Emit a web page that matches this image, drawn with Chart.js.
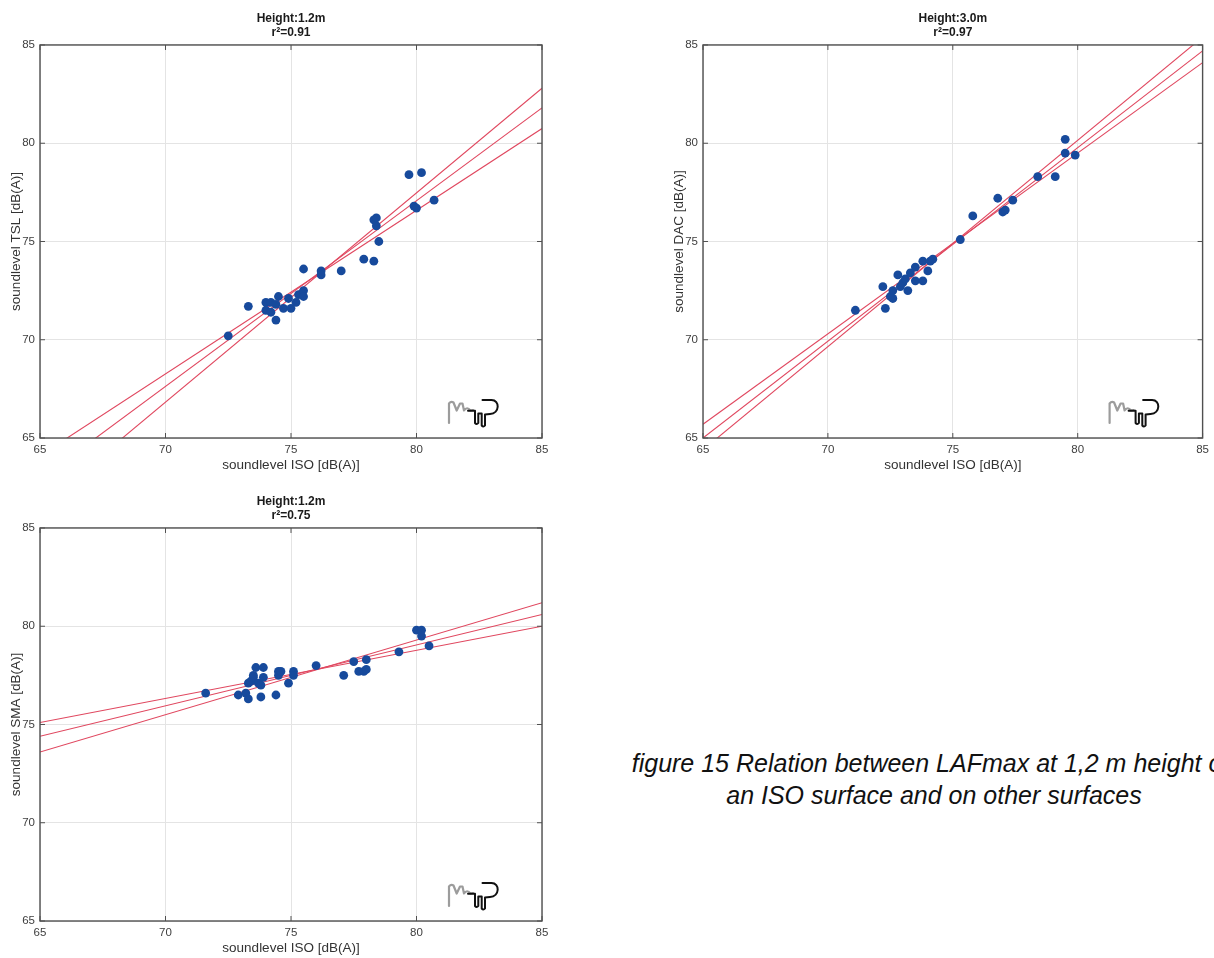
<!DOCTYPE html>
<html>
<head>
<meta charset="utf-8">
<script src="https://cdn.jsdelivr.net/npm/chart.js@4.4.1/dist/chart.umd.min.js"></script>
<style>
  html, body { margin: 0; padding: 0; background: #fff; overflow: hidden; }
  body { width: 1214px; height: 958px; position: relative; font-family: "Liberation Sans", Arial, sans-serif; }
  canvas { position: absolute; }
  #c1 { left: 0; top: 0; }
  #c2 { left: 663px; top: 0; }
  #c3 { left: 0; top: 483px; }
  .caption { position: absolute; left: 584px; width: 700px; top: 747px; text-align: center;
    font-style: italic; font-size: 25px; line-height: 32px; color: #111; white-space: nowrap; }
</style>
</head>
<body>
<canvas id="c1" width="560" height="475"></canvas>
<canvas id="c2" width="551" height="475"></canvas>
<canvas id="c3" width="560" height="475"></canvas>
<div class="caption">figure 15 Relation between LAFmax at 1,2 m height on<br>an ISO surface and on other surfaces</div>
<script>
// ISO vs TSL, height 1.2 m
var isoTsl = [72.5, 73.3, 74.0, 74.2, 74.0, 74.2, 74.4, 74.4, 74.5, 74.7, 74.9, 75.0, 75.2, 75.3, 75.5, 75.5, 75.5, 76.2, 76.2, 77.0, 77.9, 78.3, 78.3, 78.4, 78.4, 78.5, 79.7, 80.2, 79.9, 80.0, 80.7];
var tsl    = [70.2, 71.7, 71.9, 71.9, 71.5, 71.4, 71.8, 71.0, 72.2, 71.6, 72.1, 71.6, 71.9, 72.3, 72.5, 72.2, 73.6, 73.5, 73.3, 73.5, 74.1, 74.0, 76.1, 76.2, 75.8, 75.0, 78.4, 78.5, 76.8, 76.7, 77.1];

// ISO vs DAC, height 3.0 m
var isoDac = [71.1, 72.2, 72.3, 72.5, 72.6, 72.6, 72.8, 72.9, 73.0, 73.1, 73.2, 73.3, 73.5, 73.5, 73.8, 73.8, 74.0, 74.1, 74.2, 75.3, 75.8, 76.8, 77.0, 77.1, 77.4, 78.4, 79.1, 79.5, 79.5, 79.9];
var dac    = [71.5, 72.7, 71.6, 72.2, 72.1, 72.5, 73.3, 72.7, 72.9, 73.1, 72.5, 73.4, 73.7, 73.0, 74.0, 73.0, 73.5, 74.0, 74.1, 75.1, 76.3, 77.2, 76.5, 76.6, 77.1, 78.3, 78.3, 80.2, 79.5, 79.4];

// ISO vs SMA, height 1.2 m
var isoSma = [71.6, 72.9, 73.2, 73.3, 73.3, 73.4, 73.5, 73.5, 73.6, 73.7, 73.8, 73.8, 73.9, 73.9, 74.4, 74.5, 74.5, 74.6, 74.9, 75.1, 75.1, 76.0, 77.1, 77.5, 77.7, 77.9, 78.0, 78.0, 79.3, 80.0, 80.2, 80.2, 80.5];
var sma    = [76.6, 76.5, 76.6, 76.3, 77.1, 77.2, 77.4, 77.5, 77.9, 77.1, 77.0, 76.4, 77.9, 77.4, 76.5, 77.7, 77.5, 77.7, 77.1, 77.7, 77.5, 78.0, 77.5, 78.2, 77.7, 77.7, 77.8, 78.3, 78.7, 79.8, 79.8, 79.5, 79.0];

// fit line ends (y at x = 65 and x = 85)
var fitX = [65, 85];
var tslFitLow = [64.1, 80.75], tslFit = [62.9, 81.8], tslFitHigh = [61.5, 82.8];
var dacFitLow = [65.7, 84.1], dacFit = [65.0, 84.7], dacFitHigh = [64.4, 85.4];
var smaFitLow = [75.1, 80.0], smaFit = [74.4, 80.6], smaFitHigh = [73.6, 81.2];

var axisTicks = [65, 70, 75, 80, 85];

var dotColor = '#174a9c';
var lineColor = '#e0475f';
var frameColor = '#505050';
var fontFamily = '"Liberation Sans", Arial, sans-serif';

function pairs(xs, ys) {
  return xs.map(function(x, i) { return { x: x, y: ys[i] }; });
}

function fitLine(ys) {
  return {
    data: pairs(fitX, ys),
    showLine: true,
    borderColor: lineColor,
    borderWidth: 1.1,
    pointRadius: 0,
    fill: false
  };
}

function drawLogo(ctx, r, b) {
  ctx.lineJoin = 'round';
  ctx.lineCap = 'round';
  ctx.strokeStyle = '#9c9c9c';
  ctx.lineWidth = 2.2;
  ctx.beginPath();
  ctx.moveTo(r - 93, b - 15);
  ctx.lineTo(r - 93, b - 34.5);
  ctx.quadraticCurveTo(r - 91, b - 37, r - 88.5, b - 35.5);
  ctx.lineTo(r - 85.3, b - 27.5);
  ctx.lineTo(r - 82, b - 34.5);
  ctx.lineTo(r - 79.5, b - 34.5);
  ctx.lineTo(r - 78, b - 27.5);
  ctx.quadraticCurveTo(r - 75, b - 32, r - 71.5, b - 27.5);
  ctx.lineTo(r - 69, b - 28);
  ctx.stroke();

  ctx.strokeStyle = '#111';
  ctx.lineWidth = 2;
  ctx.beginPath();
  ctx.moveTo(r - 74, b - 27.3);
  ctx.lineTo(r - 67, b - 27.3);
  ctx.lineTo(r - 67, b - 15);
  ctx.quadraticCurveTo(r - 65.3, b - 13, r - 63.7, b - 15);
  ctx.lineTo(r - 63.7, b - 24.5);
  ctx.lineTo(r - 60.3, b - 24.5);
  ctx.lineTo(r - 60.3, b - 12.5);
  ctx.quadraticCurveTo(r - 58.6, b - 10.5, r - 57, b - 12.5);
  ctx.lineTo(r - 57, b - 23.5);
  ctx.lineTo(r - 52, b - 24);
  ctx.bezierCurveTo(r - 42, b - 24.5, r - 42, b - 38, r - 50.5, b - 38);
  ctx.lineTo(r - 59.5, b - 38);
  ctx.stroke();
}

var framePlugin = {
  id: 'frame',
  afterDraw: function(chart) {
    var ctx = chart.ctx, a = chart.chartArea, xs = chart.scales.x, ys = chart.scales.y;
    ctx.save();
    ctx.strokeStyle = frameColor;
    ctx.lineWidth = 1;
    ctx.beginPath();
    xs.ticks.forEach(function(t) {
      var px = xs.getPixelForValue(t.value);
      ctx.moveTo(px, a.bottom); ctx.lineTo(px, a.bottom - 5);
      ctx.moveTo(px, a.top); ctx.lineTo(px, a.top + 5);
    });
    ys.ticks.forEach(function(t) {
      var py = ys.getPixelForValue(t.value);
      ctx.moveTo(a.left, py); ctx.lineTo(a.left + 5, py);
      ctx.moveTo(a.right, py); ctx.lineTo(a.right - 5, py);
    });
    ctx.stroke();
    ctx.lineWidth = 1.4;
    ctx.strokeRect(a.left, a.top, a.right - a.left, a.bottom - a.top);
    drawLogo(ctx, a.right, a.bottom);
    ctx.restore();
  }
};

function makePanel(id, title, yLabel, xs, ys, low, mid, high, padRight) {
  return new Chart(document.getElementById(id), {
    type: 'scatter',
    data: {
      datasets: [
        { data: pairs(xs, ys), pointRadius: 4.4, pointBackgroundColor: dotColor, pointBorderWidth: 0, borderWidth: 0 },
        fitLine(low),
        fitLine(mid),
        fitLine(high)
      ]
    },
    options: {
      responsive: false,
      animation: false,
      layout: { padding: { left: 0, right: padRight, top: 0, bottom: 0 } },
      plugins: {
        legend: { display: false },
        tooltip: { enabled: false },
        title: {
          display: true,
          text: title,
          fullSize: false,
          color: '#1a1a1a',
          font: { family: fontFamily, size: 12, weight: 'bold', lineHeight: 1.17 },
          padding: { top: 12, bottom: 4.9 }
        }
      },
      scales: {
        x: {
          type: 'linear', min: 65, max: 85,
          afterBuildTicks: function(s) { s.ticks = axisTicks.map(function(v) { return { value: v }; }); },
          ticks: { color: '#404040', padding: 5, font: { family: fontFamily, size: 11.5 } },
          grid: { color: '#e4e4e4', drawTicks: false },
          border: { display: false },
          title: { display: true, text: 'soundlevel ISO [dB(A)]', color: '#333',
            font: { family: fontFamily, size: 13.5 }, padding: { top: 0, bottom: 2 } },
          afterFit: function(s) { s.height = 37; }
        },
        y: {
          type: 'linear', min: 65, max: 85,
          afterBuildTicks: function(s) { s.ticks = axisTicks.map(function(v) { return { value: v }; }); },
          ticks: { color: '#404040', padding: 5, font: { family: fontFamily, size: 11.5 } },
          grid: { color: '#e4e4e4', drawTicks: false },
          border: { display: false },
          title: { display: true, text: yLabel, color: '#333',
            font: { family: fontFamily, size: 13.5 }, padding: { top: 8, bottom: 0 } },
          afterFit: function(s) { s.width = 40; }
        }
      }
    },
    plugins: [framePlugin]
  });
}

makePanel('c1', ['Height:1.2m', 'r\u00b2=0.91'], 'soundlevel TSL [dB(A)]', isoTsl, tsl, tslFitLow, tslFit, tslFitHigh, 18);
makePanel('c2', ['Height:3.0m', 'r\u00b2=0.97'], 'soundlevel DAC [dB(A)]', isoDac, dac, dacFitLow, dacFit, dacFitHigh, 11);
makePanel('c3', ['Height:1.2m', 'r\u00b2=0.75'], 'soundlevel SMA [dB(A)]', isoSma, sma, smaFitLow, smaFit, smaFitHigh, 18);
</script>
</body>
</html>
